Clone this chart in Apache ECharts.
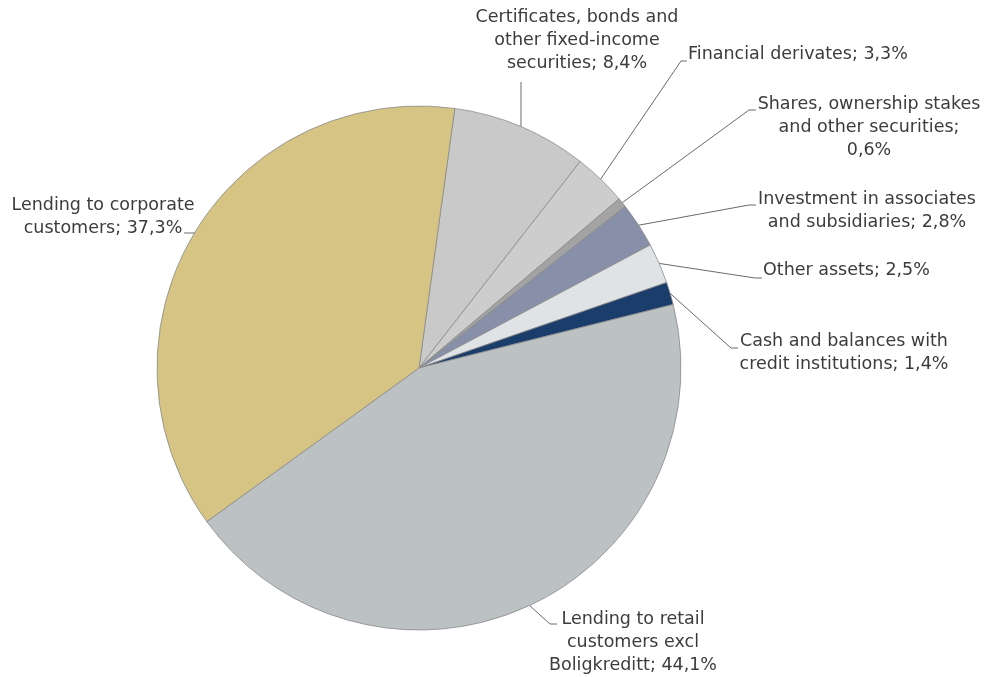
<!DOCTYPE html>
<html><head><meta charset="utf-8">
<style>html,body{margin:0;padding:0;background:#fff}#c{width:985px;height:677px}</style>
<script src="https://cdn.jsdelivr.net/npm/echarts@6/dist/echarts.min.js"></script>
</head><body><div id="c"></div>
<script>
const categories = [
  "Certificates, bonds and\nother fixed-income\nsecurities",
  "Financial derivates",
  "Shares, ownership stakes\nand other securities;\n",
  "Investment in associates\nand subsidiaries",
  "Other assets",
  "Cash and balances with\ncredit institutions",
  "Lending to retail\ncustomers excl\nBoligkreditt",
  "Lending to corporate\ncustomers"
];
const values = [8.4, 3.3, 0.6, 2.8, 2.5, 1.4, 44.1, 37.3];
const valueLabels = ["8,4%", "3,3%", "0,6%", "2,8%", "2,5%", "1,4%", "44,1%", "37,3%"];
const colors = ["#c9c9c9", "#cdcdcd", "#a3a3a3", "#8790a8", "#dfe3e6", "#1b3d6b", "#bcc1c4", "#d5c484"];

// layout (pixels)
const CX = 419, CY = 368, R = 262, START = 82.15;
// label placements: [x, y, align, lineEnd x, lineEnd y, tick end x]
const labelPos = [
  [577, 40, 'center', 521, 82, 521],
  [688, 54, 'left', 681, 61, 687],
  [869, 127, 'center', 749, 110, 756],
  [867, 211, 'center', 749, 205, 756],
  [763, 270, 'left', 755, 278, 762],
  [844, 353, 'center', 731, 348, 738],
  [633, 642, 'center', 550, 624, 557],
  [103, 217, 'center', 197, 233, 184]
];

const total = values.reduce((a, b) => a + b, 0);
function midAngle(i) {
  let acc = 0;
  for (let k = 0; k < i; k++) acc += values[k];
  acc += values[i] / 2;
  return (90 - START) + acc / total * 360; // degrees clockwise from 12 o'clock
}

const data = categories.map((c, i) => ({
  name: c, value: values[i],
  itemStyle: { color: colors[i] },
  label: { formatter: (c.endsWith('\n') ? c : c + '; ') + valueLabels[i] }
}));

const chart = echarts.init(document.getElementById('c'), null, { renderer: 'canvas' });
chart.setOption({
  animation: false,
  backgroundColor: '#fff',
  series: [{
    type: 'pie',
    center: [CX, CY],
    radius: R,
    startAngle: START,
    clockwise: true,
    data: data,
    itemStyle: { borderColor: '#8a8a8a', borderWidth: 0.8 },
    label: {
      show: true, color: '#3c3c3c', fontFamily: 'DejaVu Sans', fontSize: 17.5,
      lineHeight: 23, align: 'center', overflow: 'none', width: 400
    },
    labelLine: { show: true, lineStyle: { color: '#6a6a6a', width: 1 } },
    emphasis: { disabled: true },
    labelLayout: function (p) {
      const i = p.dataIndex;
      const lp = labelPos[i];
      const a = midAngle(i) * Math.PI / 180;
      const ax = CX + R * Math.sin(a), ay = CY - R * Math.cos(a);
      let pts;
      if (i === 0) pts = [[ax, ay], [lp[3], (ay + lp[4]) / 2], [lp[3], lp[4]]];
      else pts = [[ax, ay], [lp[3], lp[4]], [lp[5], lp[4]]];
      return {
        x: lp[0], y: lp[1], align: lp[2], verticalAlign: 'middle',
        labelLinePoints: pts
      };
    }
  }]
});
</script></body></html>
